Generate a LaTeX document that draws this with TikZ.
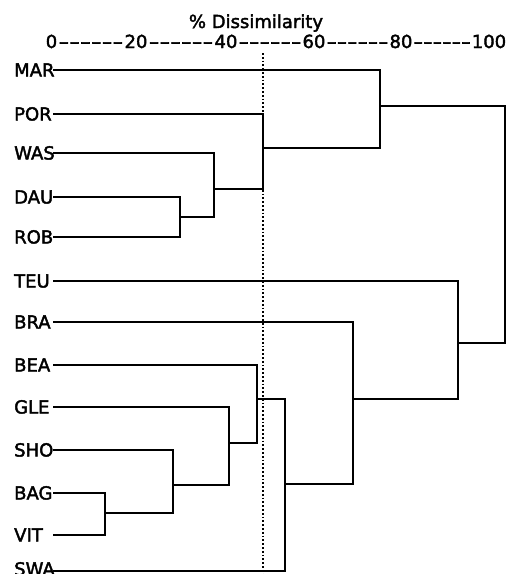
\documentclass[tikz,border=0pt]{standalone}
\usepackage{fontspec}
\setmainfont{DejaVu Sans}[FakeBold=2.2]
\usetikzlibrary{calc}
\newcommand\hy{\mbox{-}}
\newcommand\hys{\hy\hy\hy\hy\hy\hy}
\begin{document}
\begin{tikzpicture}[x=1pt,y=-1pt,
  lbl/.style={anchor=west, inner sep=0pt, font=\fontsize{18}{18}\selectfont, text height=13pt, text depth=0pt},
  num/.style={anchor=base, inner sep=0pt, font=\fontsize{18}{18}\selectfont},
  link/.style={line width=1.5pt, line join=miter},
  cut/.style={line width=1.1pt, dash pattern=on 1.8pt off 2pt}]
\useasboundingbox (0,0) rectangle (517,574);
% title and axis
\node[num] (title) at (256,28) {\% Dissimilarity};
\node[num] (n0) at (51.5,48) {0};
\node[num] (n20) at (136,48) {20};
\node[num] (n40) at (226,48) {40};
\node[num] (n60) at (314,48) {60};
\node[num] (n80) at (401,48) {80};
\node[num] (n100) at (489,48) {100};
\node[num] (d1) at ($(n0.base east)!0.5!(n20.base west)$) {\scalebox{1.66}[1]{\hys}};
\node[num] (d2) at ($(n20.base east)!0.5!(n40.base west)$) {\scalebox{1.66}[1]{\hys}};
\node[num] (d3) at ($(n40.base east)!0.5!(n60.base west)$) {\scalebox{1.62}[1]{\hys}};
\node[num] (d4) at ($(n60.base east)!0.5!(n80.base west)$) {\scalebox{1.59}[1]{\hys}};
\node[num] (d5) at ($(n80.base east)!0.5!(n100.base west)$) {\scalebox{1.47}[1]{\hys}};
% leaf labels
\foreach \n/\y in {MAR/70,POR/114,WAS/153,DAU/197,ROB/237,TEU/281,BRA/322,BEA/365,GLE/407,SHO/450,BAG/493,VIT/535}{
  \node[lbl] (\n l) at (14,\y) {\n};
  \coordinate (\n) at (53,\y);
}
\node[lbl] (SWAl) at (14,569) {SWA};
\coordinate (SWA) at (53,571);
% merge points
\coordinate (m1) at (180,217);
\coordinate (m2) at (214,189);
\coordinate (m3) at (263,148);
\coordinate (m4) at (380,106);
\coordinate (m5) at (105,513);
\coordinate (m6) at (173,485);
\coordinate (m7) at (229,443);
\coordinate (m8) at (257,399);
\coordinate (m9) at (285,484);
\coordinate (m10) at (353,399);
\coordinate (m11) at (458,343);
\coordinate (root) at (505,224);
% dendrogram
\draw[link] (DAU) -| (m1) |- (ROB);
\draw[link] (WAS) -| (m2) |- (m1);
\draw[link] (POR) -| (m3) |- (m2);
\draw[link] (MAR) -| (m4) |- (m3);
\draw[link] (BAG) -| (m5) |- (VIT);
\draw[link] (SHO) -| (m6) |- (m5);
\draw[link] (GLE) -| (m7) |- (m6);
\draw[link] (BEA) -| (m8) |- (m7);
\draw[link] (m8) -| (m9) |- (SWA);
\draw[link] (BRA) -| (m10) |- (m9);
\draw[link] (TEU) -| (m11) |- (m10);
\draw[link] (m4) -| (root) |- (m11);
% cut line
\coordinate (ct) at (263,53);
\coordinate (cb) at (263,574);
\draw[cut] (ct) -- (cb);
\end{tikzpicture}
\end{document}
